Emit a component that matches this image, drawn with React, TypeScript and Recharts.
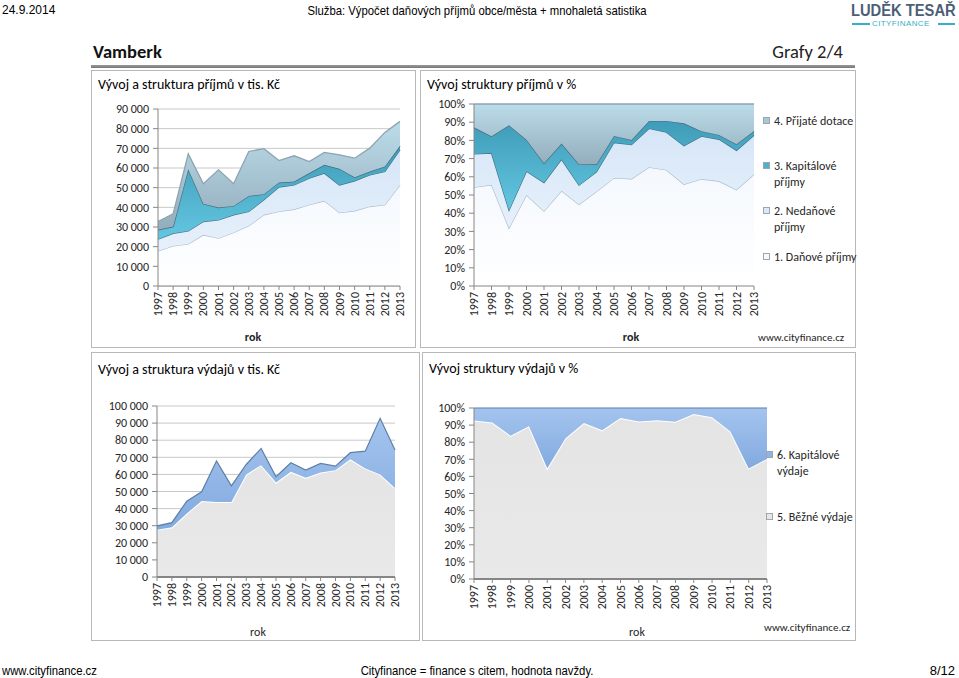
import React from "react";
import { AreaChart, Area, XAxis, YAxis, CartesianGrid } from "recharts";

// roky
const years = ["1997", "1998", "1999", "2000", "2001", "2002", "2003", "2004", "2005", "2006", "2007", "2008", "2009", "2010", "2011", "2012", "2013"];

// příjmy v tis. Kč
const danovePrijmy = [17800, 20400, 21400, 26000, 24300, 27200, 30600, 36200, 37900, 39000, 41300, 43300, 37300, 38200, 40400, 41300, 51400];
const nedanovePrijmy = [6000, 6400, 6600, 6800, 9300, 9000, 7300, 7600, 12400, 12400, 13500, 14100, 14100, 15300, 16100, 16900, 17900];
const kapitalovePrijmy = [4800, 3400, 31400, 9000, 6300, 4500, 7900, 2900, 2300, 1700, 2600, 4200, 8200, 1800, 1700, 2600, 2000];
const prijateDotace = [4200, 6500, 7800, 10200, 19200, 11300, 22600, 23100, 11200, 13100, 5900, 6300, 7100, 9700, 11900, 17300, 12400];

// výdaje v tis. Kč
const bezneVydaje = [27700, 29100, 37100, 44500, 43900, 43900, 60000, 65400, 55200, 61500, 58000, 61100, 62500, 68800, 63500, 60000, 52100];
const kapitaloveVydaje = [2200, 2700, 7200, 5300, 23900, 9400, 5800, 9800, 3400, 5300, 4500, 5300, 2300, 3900, 10100, 32800, 22100];

const incomeTicks = [0, 10000, 20000, 30000, 40000, 50000, 60000, 70000, 80000, 90000];
const expenseTicks = [0, 10000, 20000, 30000, 40000, 50000, 60000, 70000, 80000, 90000, 100000];
const pctTicks = [0, 0.1, 0.2, 0.3, 0.4, 0.5, 0.6, 0.7, 0.8, 0.9, 1];

const income = years.map((rok, i) => ({
  rok,
  d: danovePrijmy[i],
  n: nedanovePrijmy[i],
  k: kapitalovePrijmy[i],
  p: prijateDotace[i],
}));

const expense = years.map((rok, i) => ({
  rok,
  b: bezneVydaje[i],
  k: kapitaloveVydaje[i],
}));

const FONT = "Carlito, Lato, 'Open Sans', sans-serif";
const ARIAL = "'Liberation Sans', Arial, sans-serif";
const AXIS = "#868686";
const TXT = "#262626";

const thousands = (v: number) => String(v).replace(/\B(?=(\d{3})+(?!\d))/g, " ");
const pct = (v: number) => `${Math.round(v * 100)}%`;

const YearTick = (props: any) => {
  const { x, y, payload } = props;
  return (
    <text
      transform={`translate(${x},${y}) rotate(-90)`}
      textAnchor="end"
      dominantBaseline="central"
      fontSize={12}
      fontFamily={FONT}
      fill={TXT}
    >
      {payload.value}
    </text>
  );
};

const yTick = { fontSize: 12, fill: TXT, fontFamily: FONT };

const Panel = ({ left, top, width, height }: any) => (
  <div
    style={{
      position: "absolute",
      left,
      top,
      width,
      height,
      border: "1px solid #b8b8b8",
      boxSizing: "border-box",
      background: "#fff",
    }}
  />
);

const Txt = ({ left, top, size = 12, bold = false, children, font = FONT, color = TXT, style = {} }: any) => (
  <div
    style={{
      position: "absolute",
      left,
      top,
      fontSize: size,
      fontWeight: bold ? 700 : 400,
      fontFamily: font,
      color,
      whiteSpace: "nowrap",
      lineHeight: 1,
      ...style,
    }}
  >
    {children}
  </div>
);

const LegendItem = ({ left, top, color, lines }: any) => (
  <div style={{ position: "absolute", left, top, fontFamily: FONT, fontSize: 12, color: TXT, lineHeight: "16px" }}>
    <span
      style={{
        position: "absolute",
        left: -11,
        top: 4,
        width: 7,
        height: 7,
        background: color,
        border: "1px solid #9aa7b0",
        boxSizing: "border-box",
      }}
    />
    {lines.map((l: string, i: number) => (
      <div key={i} style={{ whiteSpace: "nowrap" }}>{l}</div>
    ))}
  </div>
);

const IncomeDefs = () => (
  <defs>
    <linearGradient id="gD" x1="0" y1="0" x2="0" y2="1">
      <stop offset="0%" stopColor="#f4f8fd" />
      <stop offset="100%" stopColor="#ffffff" />
    </linearGradient>
    <linearGradient id="gN" x1="0" y1="0" x2="0" y2="1">
      <stop offset="0%" stopColor="#d6e6f7" />
      <stop offset="100%" stopColor="#e6f0fb" />
    </linearGradient>
    <linearGradient id="gK" x1="0" y1="0" x2="0" y2="1">
      <stop offset="0%" stopColor="#3f9cb8" />
      <stop offset="100%" stopColor="#63c6e0" />
    </linearGradient>
    <linearGradient id="gP" x1="0" y1="0" x2="0" y2="1">
      <stop offset="0%" stopColor="#bcdcea" />
      <stop offset="100%" stopColor="#93adbb" />
    </linearGradient>
  </defs>
);

const ExpenseDefs = () => (
  <defs>
    <linearGradient id="gB" x1="0" y1="0" x2="0" y2="1">
      <stop offset="0%" stopColor="#e4e4e4" />
      <stop offset="100%" stopColor="#e9e9e9" />
    </linearGradient>
    <linearGradient id="gKV" x1="0" y1="0" x2="0" y2="1">
      <stop offset="0%" stopColor="#a4c4ee" />
      <stop offset="100%" stopColor="#82aadf" />
    </linearGradient>
  </defs>
);

const incomeAreas = [
  <Area key="d" type="linear" dataKey="d" stackId="1" fill="url(#gD)" fillOpacity={1} stroke="#a9bccd" strokeWidth={1.2} isAnimationActive={false} dot={false} activeDot={false} />,
  <Area key="n" type="linear" dataKey="n" stackId="1" fill="url(#gN)" fillOpacity={1} stroke="#3e7486" strokeWidth={1.3} isAnimationActive={false} dot={false} activeDot={false} />,
  <Area key="k" type="linear" dataKey="k" stackId="1" fill="url(#gK)" fillOpacity={1} stroke="#4a6b7a" strokeWidth={1.3} isAnimationActive={false} dot={false} activeDot={false} />,
  <Area key="p" type="linear" dataKey="p" stackId="1" fill="url(#gP)" fillOpacity={1} stroke="#8ea3af" strokeWidth={1.3} isAnimationActive={false} dot={false} activeDot={false} />,
];

const expenseAreas = [
  <Area key="b" type="linear" dataKey="b" stackId="1" fill="url(#gB)" fillOpacity={1} stroke="#ffffff" strokeWidth={2} isAnimationActive={false} dot={false} activeDot={false} />,
  <Area key="k" type="linear" dataKey="k" stackId="1" fill="url(#gKV)" fillOpacity={1} stroke="#5f7fa6" strokeWidth={1.2} isAnimationActive={false} dot={false} activeDot={false} />,
];

const xAxis = (w = 1) => (
  <XAxis
    dataKey="rok"
    interval={0}
    tick={<YearTick />}
    tickSize={4}
    tickMargin={2}
    height={30}
    axisLine={{ stroke: AXIS, strokeWidth: w }}
    tickLine={{ stroke: AXIS }}
  />
);

export default function App() {
  return (
    <div style={{ position: "absolute", left: 0, top: 0, width: 959, height: 678, background: "#fff", overflow: "hidden" }}>
      {/* hlavička */}
      <Txt left={2} top={4} size={12} font={ARIAL} color="#000">24.9.2014</Txt>
      <Txt left={477} top={4} size={13} font={ARIAL} color="#000" style={{ transform: "translateX(-50%) scaleX(0.87)" }}>
        Služba: Výpočet daňových příjmů obce/města + mnohaletá satistika
      </Txt>
      <Txt left={851} top={3} size={16} bold font={ARIAL} color="#4b5f76" style={{ transform: "scaleX(0.92)", transformOrigin: "left" }}>
        LUDĚK TESAŘ
      </Txt>
      <div style={{ position: "absolute", left: 852, top: 23, width: 18, height: 2, background: "#39aecb" }} />
      <div style={{ position: "absolute", left: 938, top: 23, width: 17, height: 2, background: "#39aecb" }} />
      <Txt left={872} top={20} size={8} font={ARIAL} color="#39aecb" style={{ letterSpacing: 0.4 }}>CITYFINANCE</Txt>

      <Txt left={93} top={43} size={18.5} bold color="#111">Vamberk</Txt>
      <Txt left={843} top={43} size={18.5} color="#222" style={{ transform: "translateX(-100%)" }}>Grafy 2/4</Txt>
      <div style={{ position: "absolute", left: 91, top: 65, width: 764, height: 3, background: "linear-gradient(#9a9a9a, #777)" }} />

      <Panel left={91} top={70} width={325} height={278} />
      <Panel left={420} top={70} width={436} height={278} />
      <Panel left={91} top={352} width={329} height={289} />
      <Panel left={422} top={352} width={434} height={289} />

      {/* příjmy v tis. Kč */}
      <Txt left={98} top={78} size={14} color="#000">Vývoj a struktura příjmů v tis. Kč</Txt>
      <div style={{ position: "absolute", left: 91, top: 70 }}>
        <AreaChart width={324} height={277} data={income} margin={{ top: 39, right: 15, bottom: 31, left: 11 }}>
          <IncomeDefs />
          <CartesianGrid vertical={false} stroke="#c8c8c8" />
          {xAxis()}
          <YAxis domain={[0, 90000]} ticks={incomeTicks} interval={0} tickFormatter={thousands} width={56} tickSize={5} tickMargin={4} tick={yTick} axisLine={{ stroke: AXIS }} tickLine={{ stroke: AXIS }} />
          {incomeAreas}
        </AreaChart>
      </div>
      <Txt left={253} top={331} size={12} bold color={TXT} style={{ transform: "translateX(-50%)" }}>rok</Txt>

      {/* příjmy v % */}
      <Txt left={427} top={78} size={14} color="#000">Vývoj struktury příjmů v %</Txt>
      <div style={{ position: "absolute", left: 420, top: 70 }}>
        <AreaChart width={350} height={277} data={income} stackOffset="expand" margin={{ top: 34, right: 16, bottom: 31, left: 10 }}>
          <IncomeDefs />
          {xAxis()}
          <YAxis domain={[0, 1]} ticks={pctTicks} interval={0} tickFormatter={pct} width={44} tickSize={5} tickMargin={4} tick={yTick} axisLine={{ stroke: AXIS }} tickLine={{ stroke: AXIS }} />
          {incomeAreas}
        </AreaChart>
      </div>
      <Txt left={631} top={331} size={12} bold color={TXT} style={{ transform: "translateX(-50%)" }}>rok</Txt>
      <Txt left={758} top={332} size={11} color={TXT}>www.cityfinance.cz</Txt>
      <LegendItem left={774} top={113} color="#a9c6d4" lines={["4. Přijaté dotace"]} />
      <LegendItem left={774} top={158} color="#4fb1cc" lines={["3. Kapitálové", "příjmy"]} />
      <LegendItem left={774} top={203} color="#dbe8f7" lines={["2. Nedaňové", "příjmy"]} />
      <LegendItem left={774} top={249} color="#f7fafd" lines={["1. Daňové příjmy"]} />

      {/* výdaje v tis. Kč */}
      <Txt left={98} top={363} size={14} color="#000">Vývoj a struktura výdajů v tis. Kč</Txt>
      <div style={{ position: "absolute", left: 91, top: 352 }}>
        <AreaChart width={328} height={288} data={expense} margin={{ top: 54, right: 24, bottom: 33, left: 10 }}>
          <ExpenseDefs />
          <CartesianGrid vertical={false} stroke="#c8c8c8" />
          {xAxis(2)}
          <YAxis domain={[0, 100000]} ticks={expenseTicks} interval={0} tickFormatter={thousands} width={56} tickSize={5} tickMargin={4} tick={yTick} axisLine={{ stroke: AXIS }} tickLine={{ stroke: AXIS }} />
          {expenseAreas}
        </AreaChart>
      </div>
      <Txt left={258} top={626} size={12} color={TXT} style={{ transform: "translateX(-50%)" }}>rok</Txt>

      {/* výdaje v % */}
      <Txt left={429} top={362} size={14} color="#000">Vývoj struktury výdajů v %</Txt>
      <div style={{ position: "absolute", left: 422, top: 352 }}>
        <AreaChart width={360} height={288} data={expense} stackOffset="expand" margin={{ top: 56, right: 15, bottom: 31, left: 8 }}>
          <ExpenseDefs />
          {xAxis(2)}
          <YAxis domain={[0, 1]} ticks={pctTicks} interval={0} tickFormatter={pct} width={44} tickSize={5} tickMargin={4} tick={yTick} axisLine={{ stroke: AXIS }} tickLine={{ stroke: AXIS }} />
          {expenseAreas}
        </AreaChart>
      </div>
      <Txt left={637} top={626} size={12} color={TXT} style={{ transform: "translateX(-50%)" }}>rok</Txt>
      <Txt left={764} top={622} size={11} color={TXT}>www.cityfinance.cz</Txt>
      <LegendItem left={777} top={447} color="#8fb4e3" lines={["6. Kapitálové", "výdaje"]} />
      <LegendItem left={777} top={509} color="#e6e6e6" lines={["5. Běžné výdaje"]} />

      {/* patička */}
      <Txt left={2} top={664} size={13} font={ARIAL} color="#000" style={{ transform: "scaleX(0.87)", transformOrigin: "left" }}>www.cityfinance.cz</Txt>
      <Txt left={477} top={664} size={13} font={ARIAL} color="#000" style={{ transform: "translateX(-50%) scaleX(0.87)" }}>
        Cityfinance = finance s citem, hodnota navždy.
      </Txt>
      <Txt left={955} top={664} size={13} font={ARIAL} color="#000" style={{ transform: "translateX(-100%)" }}>8/12</Txt>
    </div>
  );
}
